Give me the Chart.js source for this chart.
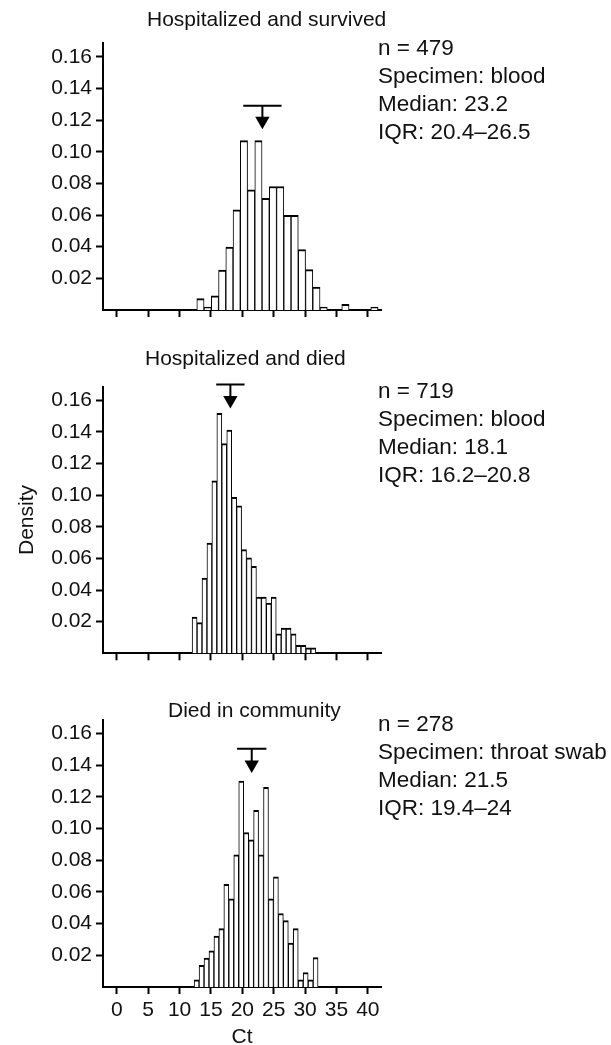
<!DOCTYPE html>
<html>
<head>
<meta charset="utf-8">
<script src="https://cdn.jsdelivr.net/npm/chart.js@4.4.0/dist/chart.umd.min.js"></script>
<style>
html,body{margin:0;padding:0;background:#fff;}
body{width:611px;height:1045px;position:relative;overflow:hidden;font-family:"Liberation Sans",Arial,sans-serif;color:#111;}
canvas{position:absolute;left:0;}
.ttl{position:absolute;white-space:nowrap;font-size:21px;line-height:24px;}
.ann{position:absolute;white-space:nowrap;font-size:22.5px;line-height:28.2px;left:378px;}
</style>
</head>
<body>
<canvas id="c1" width="611" height="340" style="top:0px"></canvas>
<canvas id="c2" width="611" height="340" style="top:340px"></canvas>
<canvas id="c3" width="611" height="365" style="top:680px"></canvas>
<div id="t1" class="ttl"></div><div id="t2" class="ttl"></div><div id="t3" class="ttl"></div>
<div id="a1" class="ann"></div><div id="a2" class="ann"></div><div id="a3" class="ann"></div>
<script>
// ---------------- data ----------------
const xTickValues = [0, 5, 10, 15, 20, 25, 30, 35, 40];
const yTickValues = [0.02, 0.04, 0.06, 0.08, 0.10, 0.12, 0.14, 0.16];

// Hospitalized and survived: histogram bin centres (Ct) and density
const survivedCt = [13.328, 14.483, 15.638, 16.793, 17.948, 19.103, 20.258, 21.413, 22.568, 23.723, 24.878, 26.033, 27.188, 28.343, 29.498, 30.653, 31.808, 32.963, 34.118, 35.273, 36.428, 37.583, 38.738, 39.893, 41.048];
const survivedDensity = [0.0072, 0.0018, 0.0090, 0.0253, 0.0398, 0.0633, 0.1070, 0.0760, 0.1070, 0.0705, 0.0780, 0.0780, 0.0598, 0.0598, 0.0382, 0.0255, 0.0145, 0.0018, 0, 0, 0.0036, 0, 0, 0, 0.0018];

// Hospitalized and died
const diedHospCt = [12.394, 13.183, 13.971, 14.760, 15.548, 16.337, 17.125, 17.914, 18.702, 19.491, 20.279, 21.068, 21.856, 22.645, 23.433, 24.222, 25.010, 25.799, 26.587, 27.376, 28.164, 28.953, 29.741, 30.530, 31.318];
const diedHospDensity = [0.0229, 0.0194, 0.0476, 0.0697, 0.1090, 0.1517, 0.1325, 0.1411, 0.0985, 0.0932, 0.0655, 0.0603, 0.0550, 0.0355, 0.0355, 0.0318, 0.0355, 0.0123, 0.0159, 0.0159, 0.0123, 0.0050, 0.0050, 0.0035, 0.0035];

// Died in community
const diedCommCt = [12.715, 13.505, 14.295, 15.085, 15.875, 16.665, 17.455, 18.245, 19.035, 19.825, 20.615, 21.405, 22.195, 22.985, 23.775, 24.565, 25.355, 26.145, 26.935, 27.725, 28.515, 29.305, 30.095, 30.885, 31.675];
const diedCommDensity = [0.0045, 0.0136, 0.0182, 0.0228, 0.0322, 0.0368, 0.0648, 0.0557, 0.0834, 0.1300, 0.0975, 0.0928, 0.1115, 0.0834, 0.1260, 0.0557, 0.0696, 0.0464, 0.0419, 0.0277, 0.0368, 0.0045, 0.0091, 0.0045, 0.0185];

const panelTitles = ["Hospitalized and survived", "Hospitalized and died", "Died in community"];
const panelN = [479, 719, 278];
const panelSpecimen = ["blood", "blood", "throat swab"];
const panelMedian = [23.2, 18.1, 21.5];
const panelIQR = ["20.4–26.5", "16.2–20.8", "19.4–24"];
const xAxisLabel = "Ct";
const yAxisLabel = "Density";

// ---------------- layout / style ----------------
const FONT = "'Liberation Sans', Arial, sans-serif";
const panels = [
  {canvas: 'c1', ct: survivedCt, dens: survivedDensity, height: 340, areaTop: 43.3, areaBottom: 310,
   markBarY: 0.129, markArrowY: 0.1195, markHalf: 3.05, titleTop: 7.4, titleLeft: 147, annTop: 33.5, xLabels: false, yTitle: false},
  {canvas: 'c2', ct: diedHospCt, dens: diedHospDensity, height: 340, areaTop: 46.7, areaBottom: 313.3,
   markBarY: 0.1699, markArrowY: 0.1600, markHalf: 2.26, titleTop: 345.7, titleLeft: 145, annTop: 376.8, xLabels: false, yTitle: true},
  {canvas: 'c3', ct: diedCommCt, dens: diedCommDensity, height: 365, areaTop: 40, areaBottom: 307,
   markBarY: 0.1503, markArrowY: 0.1403, markHalf: 2.34, titleTop: 698, titleLeft: 168, annTop: 709.8, xLabels: true, yTitle: false}
];

panels.forEach((p, i) => {
  const t = document.getElementById('t' + (i + 1));
  t.textContent = panelTitles[i];
  t.style.top = p.titleTop + 'px';
  t.style.left = p.titleLeft + 'px';
  const a = document.getElementById('a' + (i + 1));
  a.innerHTML = 'n = ' + panelN[i] + '<br>Specimen: ' + panelSpecimen[i] +
                '<br>Median: ' + panelMedian[i] + '<br>IQR: ' + panelIQR[i];
  a.style.top = p.annTop + 'px';

  const m = panelMedian[i];
  new Chart(document.getElementById(p.canvas), {
    type: 'bar',
    data: {
      datasets: [
        {
          type: 'bar',
          data: p.ct.map((c, k) => ({x: c, y: p.dens[k]})),
          backgroundColor: '#ffffff',
          borderColor: '#000000',
          borderWidth: {top: 2, left: 1, right: 1, bottom: 0},
          borderSkipped: 'bottom',
          barPercentage: 1,
          categoryPercentage: 1,
          order: 2
        },
        {
          type: 'line',
          data: [{x: m - p.markHalf, y: p.markBarY}, {x: m + p.markHalf, y: p.markBarY},
                 {x: m, y: p.markBarY}, {x: m, y: p.markArrowY}],
          borderColor: '#000000',
          borderWidth: 2,
          pointRadius: 0,
          fill: false,
          tension: 0,
          clip: false,
          order: 1
        },
        {
          type: 'scatter',
          data: [{x: m, y: p.markArrowY}],
          pointStyle: 'triangle',
          rotation: 180,
          pointRadius: 8.3,
          backgroundColor: '#000000',
          borderColor: '#000000',
          borderWidth: 0,
          clip: false,
          order: 0
        }
      ]
    },
    options: {
      responsive: false,
      devicePixelRatio: 1,
      animation: false,
      events: [],
      layout: {padding: {left: 0, right: 230, top: p.areaTop, bottom: 0}},
      plugins: {legend: {display: false}, tooltip: {enabled: false}, title: {display: false}},
      scales: {
        x: {
          type: 'linear',
          min: -2.2,
          max: 42.1,
          offset: false,
          afterBuildTicks: s => { s.ticks = xTickValues.map(v => ({value: v})); },
          afterFit: s => { s.height = p.height - p.areaBottom; },
          grid: {display: true, offset: false, drawOnChartArea: false, drawTicks: true,
                 tickLength: 7, tickWidth: 2, tickColor: '#000000'},
          border: {display: true, color: '#000000', width: 2},
          ticks: {display: p.xLabels, color: '#111111', padding: 4,
                  font: {family: FONT, size: 21}, maxRotation: 0, autoSkip: false,
                  callback: v => String(v)},
          title: {display: p.xLabels, text: xAxisLabel, color: '#111111',
                  font: {family: FONT, size: 21, lineHeight: 0.75}, padding: {top: 0, bottom: 0}}
        },
        y: {
          type: 'linear',
          min: 0,
          max: 0.1685,
          afterBuildTicks: s => { s.ticks = yTickValues.map(v => ({value: v})); },
          afterFit: s => { s.width = 103; },
          grid: {display: true, drawOnChartArea: false, drawTicks: true,
                 tickLength: 7, tickWidth: 2, tickColor: '#000000'},
          border: {display: true, color: '#000000', width: 2},
          ticks: {color: '#111111', padding: 4, font: {family: FONT, size: 21},
                  callback: v => Number(v).toFixed(2)},
          title: {display: p.yTitle, text: yAxisLabel, color: '#111111',
                  font: {family: FONT, size: 21}, padding: {top: 15, bottom: 0}}
        }
      }
    }
  });
});
</script>
</body>
</html>
